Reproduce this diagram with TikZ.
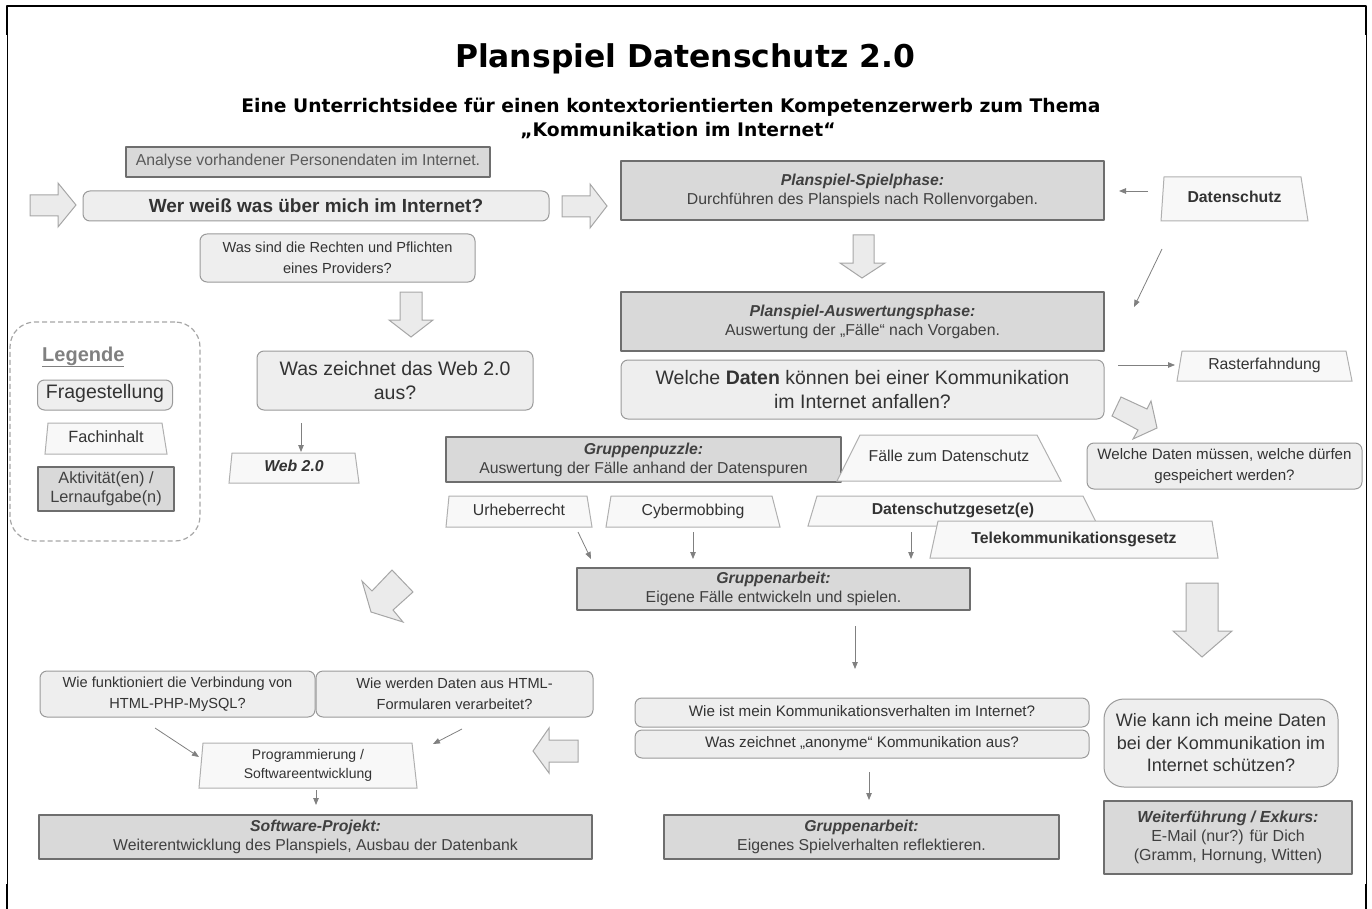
\documentclass[tikz,border=0pt]{standalone}
\usepackage{fontspec}
\setmainfont{Liberation Sans}
\newfontfamily\titlefont{DejaVu Sans}
\usetikzlibrary{arrows.meta}
\definecolor{qfill}{HTML}{EEEEEE}
\definecolor{qdraw}{HTML}{9A9A9A}
\definecolor{afill}{HTML}{D9D9D9}
\definecolor{adraw}{HTML}{6E6E6E}
\definecolor{tfill}{HTML}{F8F8F8}
\definecolor{tdraw}{HTML}{B0B0B0}
\definecolor{bfill}{HTML}{EBEBEB}
\definecolor{bdraw}{HTML}{A6A6A6}
\definecolor{txt}{HTML}{333333}
\definecolor{lgray}{HTML}{808080}
\newcommand\fs{\fontsize{15.8}{19}\selectfont}
\newcommand\fb{\fontsize{19.5}{24}\selectfont}
% trapezoid: name, cx, cy, w, h, dx left, dx right, node options, text
\newcommand\trap[9]{%
  \draw[tpoly] (#2-#4/2,#3+#5/2) -- (#2+#4/2,#3+#5/2) -- (#2+#4/2-#7,#3-#5/2) -- (#2-#4/2+#6,#3-#5/2) -- cycle;
  \node[box,#8,minimum width=#4,minimum height=#5] (#1) at (#2,#3) {#9};}
\begin{document}
\begin{tikzpicture}[x=1pt,y=-1pt,line join=round,
  box/.style={inner sep=0pt, align=center, text=txt, font=\fs, line width=1pt},
  qbox/.style={box, rectangle, rounded corners=7pt, fill=qfill, draw=qdraw},
  abox/.style={box, rectangle, fill=afill, draw=adraw, line width=1.1pt, text=black!75},
  tpoly/.style={fill=tfill, draw=tdraw, line width=1pt, line join=miter},
  one/.style={text height=11pt, text depth=4pt},
  sz/.style 2 args={minimum width=#1, minimum height=#2},
  barr/.style={fill=bfill, draw=bdraw, line width=1pt, line join=miter},
  tarr/.style={draw=lgray, line width=0.8pt, -{Triangle[length=7pt,width=5.5pt]}}]
\useasboundingbox (0,0) rectangle (1372,909);
% frame
\draw[line width=2pt] (7,35) -- (7,6) -- (1366,6) -- (1366,35);
\draw[line width=1pt] (7,35) -- (7,884);
\draw[line width=1pt] (1366,35) -- (1366,884);
\draw[line width=2pt] (7,884) -- (7,909);
\draw[line width=2pt] (1366,884) -- (1366,909);
% titles
\node[anchor=base, font=\titlefont\fontsize{31.4}{36}\selectfont\bfseries] (title) at (685,68) {Planspiel Datenschutz 2.0};
\node[anchor=base, font=\titlefont\fontsize{18.7}{22}\selectfont\bfseries] (sub1) at (671,113) {Eine Unterrichtsidee für einen kontextorientierten Kompetenzerwerb zum Thema};
\node[anchor=base, font=\titlefont\fontsize{18.7}{22}\selectfont\bfseries] (sub2) at (678,137) {„Kommunikation im Internet“};
% legend
\node[rectangle, rounded corners=25pt, draw=black!35, dashed, dash pattern=on 5pt off 3pt, line width=1.2pt, minimum width=190, minimum height=219] (legend) at (105,431.5) {};
\node[anchor=base west, inner sep=0pt, font=\fontsize{20}{24}\selectfont\bfseries, text=lgray] (legtitle) at (42,361) {\underline{Legende}};
\node[qbox, one, sz={135}{30}, font=\fontsize{19.5}{24}\selectfont] (frage) at (105,395) {Fragestellung};
\trap{fach}{106}{438.5}{122}{31}{3}{5}{one, font=\fontsize{16.3}{19}\selectfont}{Fachinhalt}
\node[abox, sz={136}{44}, font=\fontsize{16.3}{19}\selectfont] (aktiv) at (106,489) {Aktivität(en) /\\Lernaufgabe(n)};
% left column
\node[abox, one, sz={364}{30}, text=black!65] (analyse) at (308,162) {Analyse vorhandener Personendaten im Internet.};
\node[qbox, sz={466}{30}, font=\fontsize{19}{23}\selectfont\bfseries] (wer) at (316,206) {Wer weiß was über mich im Internet?};
\node[qbox, sz={275}{48}, font=\fontsize{14.6}{21}\selectfont] (provider) at (337.5,258) {Was sind die Rechten und Pflichten\\eines Providers?};
\node[qbox, sz={276}{59}, font=\fb] (web20q) at (395,380.5) {Was zeichnet das Web 2.0\\aus?};
\trap{web20t}{294}{468}{130}{30}{3}{4}{one, font=\fs\bfseries\itshape}{Web 2.0}
% right column top
\node[abox, sz={483}{59}] (spiel) at (862.5,190.5) {\textbf{\textit{Planspiel-Spielphase:}}\\Durchführen des Planspiels nach Rollenvorgaben.};
\trap{dschutz}{1234.5}{199}{147}{44}{3}{7}{one, font=\fs\bfseries}{Datenschutz}
\node[abox, sz={483}{59}] (ausw) at (862.5,321.5) {\textbf{\textit{Planspiel-Auswertungsphase:}}\\Auswertung der „Fälle“ nach Vorgaben.};
\node[qbox, sz={483}{59}, font=\fb] (daten) at (862.5,389.5) {Welche \textbf{Daten} können bei einer Kommunikation\\im Internet anfallen?};
\trap{raster}{1264.5}{366}{175}{30}{5}{6}{one}{Rasterfahndung}
\node[qbox, sz={275}{46}, font=\fontsize{15.1}{21}\selectfont] (speich) at (1224.5,466) {Welche Daten müssen, welche dürfen\\gespeichert werden?};
% middle
\node[abox, sz={395}{45}] (puzzle) at (643.5,459.5) {\textbf{\textit{Gruppenpuzzle:}}\\Auswertung der Fälle anhand der Datenspuren};
\trap{faelle}{949}{458}{224}{46}{23}{24}{one}{Fälle zum Datenschutz}
\trap{urheber}{519}{511.5}{146}{31}{3}{5}{one}{Urheberrecht}
\trap{cyber}{693}{511.5}{174}{31}{5}{8}{one}{Cybermobbing}
\trap{dsg}{953}{511}{290}{30}{9}{15}{one, font=\fs\bfseries}{Datenschutzgesetz(e)}
\trap{tkg}{1074}{539.5}{288}{37}{8}{6}{one, font=\fs\bfseries}{Telekommunikationsgesetz}
\node[abox, sz={393}{42}] (garbeit1) at (773.5,589) {\textbf{\textit{Gruppenarbeit:}}\\Eigene Fälle entwickeln und spielen.};
% bottom left
\node[qbox, sz={275}{46}, font=\fontsize{14.6}{21}\selectfont] (html1) at (177.5,694) {Wie funktioniert die Verbindung von\\HTML-PHP-MySQL?};
\node[qbox, sz={277}{46}, font=\fontsize{14.6}{21}\selectfont] (html2) at (454.5,694) {Wie werden Daten aus HTML-\\Formularen verarbeitet?};
\trap{prog}{308}{765.5}{218}{45}{4}{5}{font=\fontsize{14}{19}\selectfont}{Programmierung /\\Softwareentwicklung}
\node[abox, sz={553}{44}] (swproj) at (315.5,837) {\textbf{\textit{Software-Projekt:}}\\Weiterentwicklung des Planspiels, Ausbau der Datenbank};
% bottom middle
\node[qbox, one, sz={454}{29}, font=\fontsize{15.2}{19}\selectfont] (komm) at (862,712.5) {Wie ist mein Kommunikationsverhalten im Internet?};
\node[qbox, one, sz={454}{28}, font=\fontsize{15.2}{19}\selectfont] (anon) at (862,744) {Was zeichnet „anonyme“ Kommunikation aus?};
\node[abox, sz={395}{44}] (garbeit2) at (861.5,837) {\textbf{\textit{Gruppenarbeit:}}\\Eigenes Spielverhalten reflektieren.};
% bottom right
\node[qbox, rounded corners=20pt, sz={234}{88}, font=\fontsize{18}{22.5}\selectfont] (schuetz) at (1221,743) {Wie kann ich meine Daten\\bei der Kommunikation im\\Internet schützen?};
\node[abox, sz={248}{73}, font=\fontsize{16}{19}\selectfont] (weiter) at (1228,837.5) {\textbf{\textit{Weiterführung / Exkurs:}}\\E-Mail (nur?) für Dich\\(Gramm, Hornung, Witten)};
% block arrows
\draw[barr] (30,195) -- (58,195) -- (58,183) -- (76,205) -- (58,227) -- (58,216) -- (30,216) -- cycle;
\draw[barr] (562,196) -- (590,196) -- (590,184) -- (607,206) -- (590,228) -- (590,217) -- (562,217) -- cycle;
\draw[barr] (400,292) -- (422,292) -- (422,320) -- (433,320) -- (411,337) -- (389,320) -- (400,320) -- cycle;
\draw[barr] (853,235) -- (874,235) -- (874,263) -- (885,263) -- (862,278) -- (840,263) -- (853,263) -- cycle;
\draw[barr] (1186,583) -- (1218,583) -- (1218,631) -- (1232,631) -- (1202,657) -- (1173,631) -- (1186,631) -- cycle;
\draw[barr] (578,740) -- (549,740) -- (549,728) -- (533,751) -- (549,773) -- (549,762) -- (578,762) -- cycle;
\draw[barr] (392,570) -- (413,592) -- (393,610) -- (403,622) -- (371,612) -- (362,581) -- (372,591) -- cycle;
\draw[barr] (1121,397) -- (1147,409) -- (1151,401) -- (1157,428) -- (1133,439) -- (1138,430) -- (1112,416) -- cycle;
% thin arrows
\coordinate (k1) at (1148,191); \coordinate (k2) at (1119,191);
\coordinate (n1) at (1162,249); \coordinate (n2) at (1134,307);
\coordinate (q1) at (1118,365); \coordinate (q2) at (1175,365);
\coordinate (h1) at (301,423); \coordinate (h2) at (301,452);
\coordinate (u1) at (578,532); \coordinate (u2) at (591,559);
\coordinate (c1) at (693,532); \coordinate (c2) at (693,559);
\coordinate (d1) at (911,532); \coordinate (d2) at (911,559);
\coordinate (y1) at (855,626); \coordinate (y2) at (855,669);
\coordinate (e1) at (155,728); \coordinate (e2) at (199,757);
\coordinate (f1) at (462,729); \coordinate (f2) at (433,744);
\coordinate (g1) at (316,790); \coordinate (g2) at (316,805);
\coordinate (m1) at (869,772); \coordinate (m2) at (869,800);
\draw[tarr] (k1) -- (k2);
\draw[tarr] (n1) -- (n2);
\draw[tarr] (q1) -- (q2);
\draw[tarr] (h1) -- (h2);
\draw[tarr] (u1) -- (u2);
\draw[tarr] (c1) -- (c2);
\draw[tarr] (d1) -- (d2);
\draw[tarr] (y1) -- (y2);
\draw[tarr] (e1) -- (e2);
\draw[tarr] (f1) -- (f2);
\draw[tarr] (g1) -- (g2);
\draw[tarr] (m1) -- (m2);
\end{tikzpicture}
\end{document}
